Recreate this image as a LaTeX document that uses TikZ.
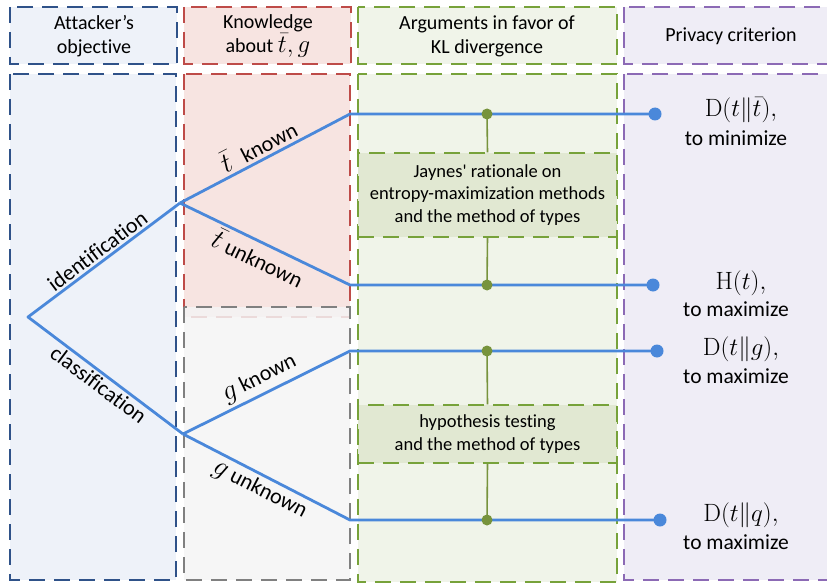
\RequirePackage{fix-cm}
\documentclass[tikz,border=0pt]{standalone}
\usepackage{amsmath}
\usepackage{amssymb}
\usepackage[no-math]{fontspec}
\setmainfont{Carlito}[Ligatures={TeXOff,CommonOff}]
\usepackage{xcolor}
\usepackage{tikz}

\definecolor{treeblue}{HTML}{4A88DA}
\definecolor{objblue}{HTML}{2F5289}
\definecolor{objfill}{HTML}{EEF2F9}
\definecolor{knowred}{HTML}{BE4B48}
\definecolor{knowfill}{HTML}{F7E4E1}
\definecolor{gknowgray}{HTML}{808080}
\definecolor{gknowfill}{HTML}{F4F4F4}
\definecolor{arggreen}{HTML}{77A23A}
\definecolor{argfill}{HTML}{F0F4E9}
\definecolor{arginner}{HTML}{E1E8D2}
\definecolor{argdot}{HTML}{77933C}
\definecolor{critpurple}{HTML}{8C6AB5}
\definecolor{critfill}{HTML}{EFEDF6}

\newcommand{\lgmath}[2]{{\fontsize{#1}{#1}\selectfont$#2$}}

\begin{document}
\begin{tikzpicture}[x=1pt, y=-1pt,
  colbox/.style={dash pattern=on 16pt off 9pt, line width=1.4pt},
  headtext/.style={align=center, inner sep=0pt,
    font=\fontsize{20}{24}\selectfont},
  branch/.style={sloped, text=black, font=\fontsize{22}{26}\selectfont},
  tree/.style={treeblue, line width=2.8pt, line join=round},
  argbox/.style={colbox, draw=arggreen, fill=arginner, line width=1.2pt,
    align=center, minimum width=259, font=\fontsize{18.5}{22.5}\selectfont},
  argline/.style={argdot, line width=1.6pt},
  crit/.style={inner sep=0pt, font=\fontsize{25}{30}\selectfont},
  critnote/.style={inner sep=0pt, font=\fontsize{21.5}{26}\selectfont},
]
  \useasboundingbox (0,0) rectangle (827,583);
  % column backgrounds
  \draw[colbox, draw=objblue, fill=objfill] (10,7) rectangle (177,64);
  \draw[colbox, draw=objblue, fill=objfill] (10,74) rectangle (176,580);
  \draw[colbox, draw=knowred, fill=knowfill] (184,7) rectangle (351,64);
  \draw[colbox, draw=knowred, fill=knowfill] (184,74) rectangle (350,317);
  \draw[colbox, draw=gknowgray, fill=gknowfill, fill opacity=0.85]
    (184,307) rectangle (350,580);
  \draw[colbox, draw=arggreen, fill=argfill] (358,7) rectangle (617,64);
  \draw[colbox, draw=arggreen, fill=argfill] (358,74) rectangle (617,582);
  \draw[colbox, draw=critpurple, fill=critfill] (624,7) rectangle (840,64);
  \draw[colbox, draw=critpurple, fill=critfill] (624,74) rectangle (840,580);

  \node[headtext] (hObj) at (94,36) {Attacker’s\\objective};
  \node[headtext] (hKnow) at (268,36) {Knowledge\\about \lgmath{25}{\bar{t}, g}};
  \node[headtext] (hArg) at (487,36) {Arguments in favor of\\KL divergence};
  \node[headtext] (hCrit) at (731,36) {Privacy criterion};

  % tree
  \coordinate (root) at (28,317);
  \coordinate (ident) at (180,203);
  \coordinate (class) at (183,434);
  \coordinate (kt) at (350,114);
  \coordinate (ut) at (350,285);
  \coordinate (kg) at (350,351);
  \coordinate (ug) at (350,520);
  \coordinate (akt) at (487,114);
  \coordinate (aut) at (487,285);
  \coordinate (akg) at (487,351);
  \coordinate (aug) at (487,520);
  \coordinate (ekt) at (655,114);
  \coordinate (eut) at (653,285);
  \coordinate (ekg) at (657,351);
  \coordinate (eug) at (660,520);

  \node[argbox, minimum height=84] (jaynes) at (487.5,195)
    {Jaynes' rationale on\\entropy-maximization methods\\and the method of types};
  \node[argbox, minimum height=58] (hypo) at (487.5,434)
    {hypothesis testing\\and the method of types};
  \draw[argline] (akt) -- (jaynes.north) (jaynes.south) -- (aut);
  \draw[argline] (akg) -- (hypo.north) (hypo.south) -- (aug);

  \draw[tree] (ident) -- (root) -- (class);
  \path (root) -- node[branch, above] {identification} (ident);
  \path (root) -- node[branch, below] {classification} (class);
  \draw[tree] (ident) -- node[branch, above]
    {\lgmath{28}{\bar{t}}\,\, known} (kt) -- (ekt);
  \draw[tree] (ident) -- node[branch, below]
    {\lgmath{28}{\bar{t}} unknown} (ut) -- (eut);
  \draw[tree] (class) -- node[branch, above]
    {\lgmath{28}{g} known} (kg) -- (ekg);
  \draw[tree] (class) -- node[branch, below]
    {\lgmath{28}{g} unknown} (ug) -- (eug);

  \foreach \p in {akt, aut, akg, aug}
    \fill[argdot] (\p) circle (5.5);
  \foreach \p in {ekt, eut, ekg, eug}
    \fill[treeblue] (\p) circle (6.5);

  % criteria
  \node[crit] (cKt) at (741,110) {$\mathrm{D}(t\|\bar{t}),$};
  \node[critnote] (nKt) at (736,138) {to minimize};
  \node[crit] (cUt) at (741,283) {$\mathrm{H}(t),$};
  \node[critnote] (nUt) at (736,309) {to maximize};
  \node[crit] (cKg) at (741,349) {$\mathrm{D}(t\|g),$};
  \node[critnote] (nKg) at (736,376) {to maximize};
  \node[crit] (cUg) at (741,515) {$\mathrm{D}(t\|q),$};
  \node[critnote] (nUg) at (736,542) {to maximize};
\end{tikzpicture}
\end{document}
